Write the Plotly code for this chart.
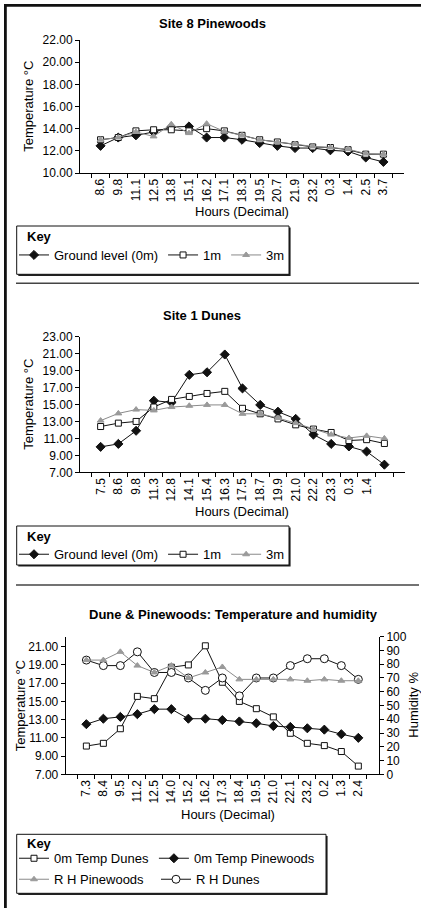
import plotly.graph_objects as go

W, H = 421, 908
FONT = "Liberation Sans, Arial, Helvetica, sans-serif"
BLACK = "#111111"
GRAY = "#9a9a9a"
LGRAY = "#8a8a8a"

# ---------------- data ----------------
hours_pine = ["8.6", "9.8", "11.1", "12.5", "13.8", "15.1", "16.2", "17.1", "18.3",
              "19.5", "20.7", "21.9", "23.2", "0.3", "1.4", "2.5", "3.7"]
pine_0m = [12.45, 13.2, 13.4, 13.7, 14.15, 14.2, 13.2, 13.2, 13.0, 12.7, 12.45, 12.25,
           12.25, 12.05, 11.95, 11.4, 11.0]
pine_1m = [13.0, 13.2, 13.8, 13.9, 13.9, 13.8, 14.0, 13.8, 13.4, 13.0, 12.8, 12.55,
           12.35, 12.3, 12.1, 11.7, 11.7]
pine_3m = [13.0, 13.2, 13.7, 13.3, 14.4, 13.6, 14.45, 13.75, 13.4, 13.0, 12.8, 12.6,
           12.4, 12.3, 12.15, 11.75, 11.7]

hours_dune = ["7.5", "8.6", "9.8", "11.3", "12.8", "14.1", "15.4", "16.3", "17.5",
              "18.7", "19.9", "21.0", "22.2", "23.3", "0.3", "1.4", " "]
dune_0m = [10.0, 10.35, 11.9, 15.45, 15.25, 18.5, 18.8, 20.9, 16.9, 14.95, 14.15, 13.3,
           11.45, 10.35, 10.05, 9.45, 7.9]
dune_1m = [12.4, 12.8, 13.0, 14.7, 15.6, 15.95, 16.3, 16.55, 14.55, 13.9, 13.3, 12.6,
           12.1, 11.7, 10.75, 10.85, 10.4]
dune_3m = [13.1, 13.95, 14.4, 14.3, 14.7, 14.85, 14.95, 14.95, 13.9, 13.9, 13.4, 12.8,
           12.1, 11.45, 11.05, 11.3, 11.0]

hours_both = ["7.3", "8.4", "9.5", "11.2", "12.5", "14.0", "15.2", "16.2", "17.3",
              "18.4", "19.5", "21.0", "22.1", "23.2", "0.2", "1.3", "2.4"]
temp_dunes = [10.1, 10.4, 12.0, 15.55, 15.3, 18.75, 19.0, 21.1, 17.1, 15.0, 14.2, 13.3,
              11.5, 10.4, 10.15, 9.5, 7.9]
temp_pine = [12.5, 13.1, 13.3, 13.6, 14.15, 14.15, 13.1, 13.1, 12.95, 12.8, 12.6, 12.3,
             12.2, 12.05, 11.9, 11.4, 11.0]
rh_pine = [83, 83, 89, 79, 74, 79, 70, 74, 78, 69, 69, 69, 69, 68, 69, 68, 68]
rh_dunes = [83, 79, 79, 89, 74, 74, 70, 61, 70, 57, 70, 70, 79, 84, 84, 79, 69]


def px(x):
    return x / W


def py(y):
    return 1 - y / H


fig = go.Figure()


def add(x, y, name, xa, ya, legend, symbol, size, fill, mline, lcolor, rank=None):
    fig.add_trace(go.Scatter(
        x=x, y=y, name=name, mode="lines+markers", xaxis=xa, yaxis=ya, legend=legend,
        line=dict(color=lcolor, width=1),
        marker=dict(symbol=symbol, size=size, color=fill, line=dict(color=mline, width=1)),
        legendrank=rank if rank is not None else 1000,
        hoverinfo="skip"))


# chart 1
add(hours_pine, pine_0m, "Ground level (0m)", "x", "y", "legend", "diamond", 7, BLACK, BLACK, BLACK)
add(hours_pine, pine_1m, "1m", "x", "y", "legend", "square", 6, "white", BLACK, BLACK)
add(hours_pine, pine_3m, "3m", "x", "y", "legend", "triangle-up", 6, GRAY, GRAY, LGRAY)
# chart 2
add(hours_dune, dune_0m, "Ground level (0m)", "x2", "y2", "legend2", "diamond", 7, BLACK, BLACK, BLACK)
add(hours_dune, dune_1m, "1m", "x2", "y2", "legend2", "square", 6, "white", BLACK, BLACK)
add(hours_dune, dune_3m, "3m", "x2", "y2", "legend2", "triangle-up", 6, GRAY, GRAY, LGRAY)
# chart 3
add(hours_both, temp_dunes, "0m Temp Dunes", "x3", "y3", "legend3", "square", 6, "white", BLACK, BLACK)
add(hours_both, temp_pine, "0m Temp Pinewoods", "x3", "y3", "legend3", "diamond", 7, BLACK, BLACK, BLACK)
add(hours_both, rh_dunes, "R H Dunes", "x3", "y4", "legend4", "circle", 8, "white", BLACK, BLACK, rank=2)
add(hours_both, rh_pine, "R H Pinewoods", "x3", "y4", "legend4", "triangle-up", 6, GRAY, GRAY, LGRAY, rank=1)

tickfont = dict(family=FONT, size=12, color="black")
xcommon = dict(type="category", showline=True, linecolor="black", linewidth=1,
               ticks="outside", ticklen=4, tickcolor="black", tickson="boundaries",
               tickangle=-90, showgrid=False, zeroline=False, tickfont=tickfont,
               fixedrange=True, automargin=False)
ycommon = dict(showline=True, linecolor="black", linewidth=1, ticks="outside", ticklen=4,
               tickcolor="black", showgrid=False, zeroline=False, tickfont=tickfont,
               tickformat=".2f", fixedrange=True, automargin=False)

fig.update_layout(
    xaxis=dict(domain=[px(80), px(404)], anchor="y", **xcommon),
    yaxis=dict(domain=[py(173), py(40)], anchor="x", range=[10, 22], tick0=10, dtick=2, **ycommon),
    xaxis2=dict(domain=[px(80), px(405)], anchor="y2", **xcommon),
    yaxis2=dict(domain=[py(472.3), py(336.7)], anchor="x2", range=[7, 23], tick0=7, dtick=2, **ycommon),
    xaxis3=dict(domain=[px(65.7), px(379)], anchor="y3", **xcommon),
    yaxis3=dict(domain=[py(774.3), py(636.7)], anchor="x3", range=[7, 22.1],
                tickvals=[7, 9, 11, 13, 15, 17, 19, 21], **ycommon),
    yaxis4=dict(overlaying="y3", anchor="x3", side="right", range=[0, 100], tick0=0, dtick=10,
                showline=True, linecolor="black", linewidth=1, ticks="outside", ticklen=4,
                tickcolor="black", showgrid=False, zeroline=False, tickfont=tickfont,
                fixedrange=True, automargin=False),
)

leg = dict(orientation="h", xanchor="left", yanchor="top", bgcolor="rgba(0,0,0,0)",
           borderwidth=0, font=dict(family=FONT, size=13, color="black"),
           itemclick=False, itemdoubleclick=False, traceorder="normal")
fig.update_layout(
    legend=dict(x=px(14), y=py(240), **leg),
    legend2=dict(x=px(14), y=py(539.3), **leg),
    legend3=dict(x=px(14), y=py(843.3), **leg),
    legend4=dict(x=px(14), y=py(864.3), entrywidth=97, entrywidthmode="pixels", **leg),
)

shapes = []
# frame (top and left)
shapes.append(dict(type="rect", xref="paper", yref="paper", x0=px(4), x1=px(6.8), y0=py(908), y1=py(4),
                   fillcolor="#111", line=dict(width=0)))
shapes.append(dict(type="rect", xref="paper", yref="paper", x0=px(4), x1=px(421), y0=py(6.8), y1=py(4),
                   fillcolor="#111", line=dict(width=0)))
# separators
for yy in (283.3, 585):
    shapes.append(dict(type="line", xref="paper", yref="paper", x0=px(16), x1=px(419), y0=py(yy), y1=py(yy),
                       line=dict(color="#444", width=1.5)))
# key boxes with shadow
for (x0, y0, x1, y1) in [(16.7, 226, 289, 274.3), (16.7, 526, 289, 565), (16.7, 834.3, 326, 893.3)]:
    shapes.append(dict(type="rect", xref="paper", yref="paper", x0=px(x0 + 1.6), x1=px(x1 + 1.6),
                       y0=py(y1 + 1.6), y1=py(y0 + 1.6), fillcolor="#222", line=dict(width=0)))
    shapes.append(dict(type="rect", xref="paper", yref="paper", x0=px(x0), x1=px(x1),
                       y0=py(y1), y1=py(y0), fillcolor="white", line=dict(color="#111", width=1)))

ann = []


def text(x, y, s, size=13, bold=False, angle=0, xanchor="center"):
    ann.append(dict(xref="paper", yref="paper", x=px(x), y=py(y), text=("<b>%s</b>" % s) if bold else s,
                    showarrow=False, xanchor=xanchor, yanchor="middle", textangle=angle,
                    font=dict(family=FONT, size=size, color="black")))


text(212, 23, "Site 8 Pinewoods", bold=True)
text(28.3, 106.5, "Temperature °C", angle=-90)
text(242, 211.7, "Hours (Decimal)")
text(25, 236, "Key", bold=True, xanchor="left")

text(201.7, 315, "Site 1 Dunes", bold=True)
text(28.3, 404.5, "Temperature °C", angle=-90)
text(241.7, 511.7, "Hours (Decimal)")
text(25, 536.7, "Key", bold=True, xanchor="left")

text(233.8, 614, "Dune &amp; Pinewoods: Temperature and humidity", bold=True)
text(20.7, 705.5, "Temperature °C", angle=-90)
text(412.7, 705, "Humidity %", angle=-90)
text(227.7, 814, "Hours (Decimal)")
text(25, 843.3, "Key", bold=True, xanchor="left")

fig.update_layout(
    width=W, height=H, margin=dict(l=0, r=0, t=0, b=0, autoexpand=False), autosize=False,
    paper_bgcolor="white", plot_bgcolor="white",
    font=dict(family=FONT, size=12, color="black"),
    shapes=shapes, annotations=ann, hovermode=False,
)

# remove the default 8px page margin synchronously (runs right after newPlot is called)
page_css = ("}); document.body.style.margin='0px'; document.body.style.padding='0px'; "
            "document.documentElement.style.overflow='hidden'; (function(){")

fig.write_html("out.html", config={"displayModeBar": False}, post_script=page_css)
